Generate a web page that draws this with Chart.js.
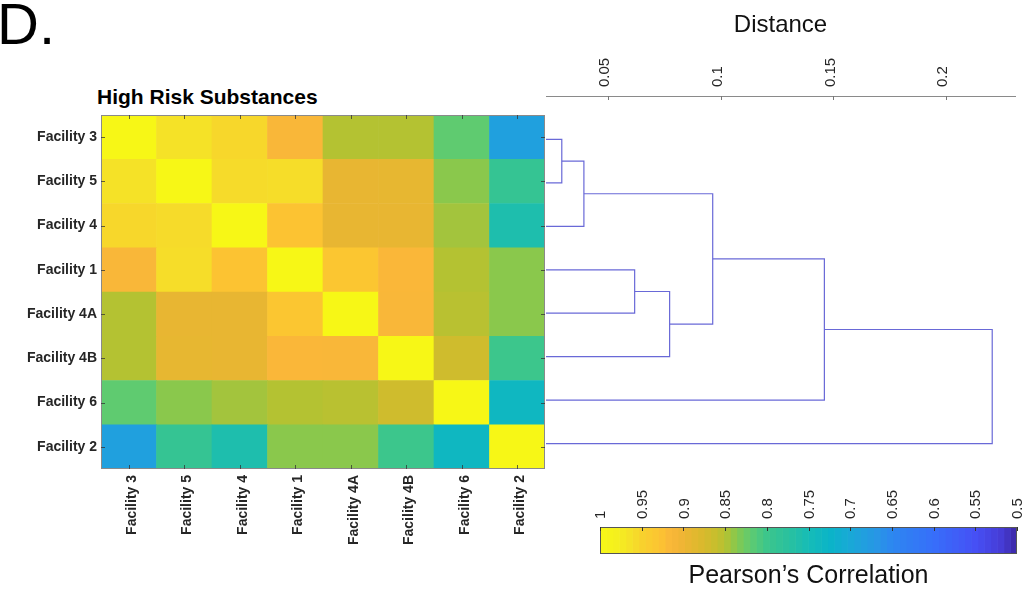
<!DOCTYPE html>
<html>
<head>
<meta charset="utf-8">
<script src="https://cdn.jsdelivr.net/npm/chart.js@4.4.1/dist/chart.umd.min.js"></script>
<style>
  html, body { margin: 0; padding: 0; background: #fff; }
  body { width: 1036px; height: 593px; position: relative; overflow: hidden; font-family: 'Liberation Sans', Arial, sans-serif; }
  .abs { position: absolute; }
  #panel { left: -3px; top: -5px; font-size: 58px; line-height: 58px; color: #000; }
  #hmTitle { left: 97px; top: 86px; font-size: 21px; line-height: 21px; font-weight: bold; color: #000; }
</style>
</head>
<body>
<div id="panel" class="abs">D.</div>
<div id="hmTitle" class="abs">High Risk Substances</div>
<div class="abs" style="left:0;top:80px;width:560px;height:480px"><canvas id="heatmap"></canvas></div>
<div class="abs" style="left:540px;top:0;width:496px;height:500px"><canvas id="dendro"></canvas></div>
<div class="abs" style="left:560px;top:440px;width:476px;height:153px"><canvas id="colorbar"></canvas></div>
<script>
// facilities, in clustered order (rows top to bottom, columns left to right)
const facilities = ['Facility 3', 'Facility 5', 'Facility 4', 'Facility 1', 'Facility 4A', 'Facility 4B', 'Facility 6', 'Facility 2'];

// Pearson correlation matrix
const corrF3  = [1.000, 0.965, 0.955, 0.915, 0.850, 0.850, 0.820, 0.685];
const corrF5  = [0.965, 1.000, 0.958, 0.960, 0.893, 0.892, 0.838, 0.790];
const corrF4  = [0.955, 0.958, 1.000, 0.928, 0.893, 0.893, 0.845, 0.760];
const corrF1  = [0.915, 0.960, 0.928, 1.000, 0.932, 0.916, 0.850, 0.838];
const corrF4A = [0.850, 0.893, 0.893, 0.932, 1.000, 0.915, 0.853, 0.838];
const corrF4B = [0.850, 0.892, 0.893, 0.916, 0.915, 1.000, 0.868, 0.800];
const corrF6  = [0.820, 0.838, 0.845, 0.850, 0.853, 0.868, 1.000, 0.735];
const corrF2  = [0.685, 0.790, 0.760, 0.838, 0.838, 0.800, 0.735, 1.000];
const corrRows = [corrF3, corrF5, corrF4, corrF1, corrF4A, corrF4B, corrF6, corrF2];

// linkage: node ids 1..8 are leaves (in the order above), 9.. are merges
const linkLeft   = [1, 9, 4, 11, 10, 13, 14];
const linkRight  = [2, 3, 5, 6, 12, 7, 8];
const linkHeight = [0.0296, 0.0394, 0.0619, 0.0774, 0.0965, 0.146, 0.2204];
const distTicks = [0.05, 0.1, 0.15, 0.2];
const distMin = 0.0226, distMax = 0.2305;

// colorbar
const corrTicks = [1, 0.95, 0.9, 0.85, 0.8, 0.75, 0.7, 0.65, 0.6, 0.55, 0.5];
const cmapLevels = 64;

// colormap anchors (value -> colour) sampled from the colorbar
const cmapStops  = [1.0, 0.98, 0.964, 0.95, 0.928, 0.916, 0.9, 0.88, 0.862, 0.85, 0.837, 0.82, 0.8, 0.772, 0.75, 0.724, 0.7, 0.668, 0.65, 0.6, 0.55, 0.52, 0.5];
const cmapColors = [
  [247,247,22], [245,240,30], [245,225,40], [248,210,45], [252,195,50], [250,183,57],
  [238,181,52], [220,185,45], [200,190,45], [180,194,50], [135,200,78], [95,203,112],
  [60,198,140], [40,192,160], [22,188,183], [10,180,200], [25,168,215], [40,150,230],
  [45,135,240], [55,110,250], [70,80,245], [70,60,215], [60,40,165]
];

function colorFor(v) {
  if (v >= cmapStops[0]) return `rgb(${cmapColors[0].join(',')})`;
  for (let i = 0; i < cmapStops.length - 1; i++) {
    const hi = cmapStops[i], lo = cmapStops[i + 1];
    if (v <= hi && v >= lo) {
      const f = (hi - v) / (hi - lo);
      const c = cmapColors[i].map((a, k) => Math.round(a + (cmapColors[i + 1][k] - a) * f));
      return `rgb(${c.join(',')})`;
    }
  }
  return `rgb(${cmapColors[cmapColors.length - 1].join(',')})`;
}

Chart.defaults.font.family = "'Liberation Sans', Arial, sans-serif";
Chart.defaults.color = '#262626';
Chart.defaults.animation = false;

// frame around the plot box and MATLAB-style inward tick marks
const frameAndTicks = {
  id: 'frameAndTicks',
  afterDraw(chart, args, o) {
    const { ctx, chartArea: a } = chart;
    ctx.save();
    ctx.lineWidth = 1;
    if (o.frame) {
      ctx.strokeStyle = o.frame;
      ctx.strokeRect(Math.round(a.left) + 0.5, Math.round(a.top) + 0.5,
        Math.round(a.right - a.left) - 1, Math.round(a.bottom - a.top) - 1);
    }
    ctx.strokeStyle = o.tickColor || '#333';
    ctx.beginPath();
    (o.marks || []).forEach(([id, edge]) => {
      const s = chart.scales[id];
      s.ticks.forEach(t => {
        const p = Math.round(s.getPixelForValue(t.value)) + 0.5;
        if (edge === 'top') { ctx.moveTo(p, a.top); ctx.lineTo(p, a.top + o.len); }
        if (edge === 'bottom') { ctx.moveTo(p, a.bottom); ctx.lineTo(p, a.bottom - o.len); }
        if (edge === 'left') { ctx.moveTo(a.left, p); ctx.lineTo(a.left + o.len, p); }
        if (edge === 'right') { ctx.moveTo(a.right, p); ctx.lineTo(a.right - o.len, p); }
      });
    });
    ctx.stroke();
    ctx.restore();
  }
};

// ---- heatmap ----
const n = facilities.length;
const heatSets = corrRows.map((row, i) => ({
  label: facilities[i],
  data: row.map(() => 1),
  backgroundColor: row.map(v => colorFor(v)),
  borderWidth: 0,
  barPercentage: 1,
  categoryPercentage: 1
})).reverse();

new Chart(document.getElementById('heatmap'), {
  type: 'bar',
  data: { labels: facilities, datasets: heatSets },
  options: {
    responsive: true,
    maintainAspectRatio: false,
    layout: { padding: { top: 35, right: 15, left: 0, bottom: 0 } },
    plugins: {
      legend: { display: false },
      tooltip: { enabled: false },
      frameAndTicks: {
        frame: '#8a8a8a', tickColor: 'rgba(50,50,50,0.75)', len: 4,
        marks: [['x', 'top'], ['x', 'bottom'], ['y', 'left'], ['y', 'right']]
      }
    },
    scales: {
      x: {
        stacked: true,
        z: 1,
        grid: { offset: false, color: 'rgba(0,0,0,0.09)', drawTicks: false },
        border: { display: false },
        ticks: { autoSkip: false, minRotation: 90, maxRotation: 90, padding: 6, labelOffset: 3,
                 font: { size: 14, weight: 'bold' }, color: '#262626' },
        afterFit: s => { s.height = 91; }
      },
      y: {
        stacked: true,
        min: 0,
        max: n,
        z: 1,
        grid: { color: 'rgba(0,0,0,0.09)', drawTicks: false },
        border: { display: false },
        afterBuildTicks: s => { s.ticks = facilities.map((_, i) => ({ value: n - i - 0.5 })); },
        ticks: { padding: 4, font: { size: 14, weight: 'bold' }, color: '#262626',
                 callback: v => facilities[Math.round(n - 0.5 - v)] },
        afterFit: s => { s.width = 101; }
      }
    }
  },
  plugins: [frameAndTicks]
});

// ---- dendrogram ----
const nodeY = {}, nodeH = {};
facilities.forEach((_, i) => { nodeY[i + 1] = i + 1; nodeH[i + 1] = 0; });
const linkSets = linkHeight.map((h, k) => {
  const a = linkLeft[k], b = linkRight[k];
  const id = n + k + 1;
  nodeY[id] = (nodeY[a] + nodeY[b]) / 2;
  nodeH[id] = h;
  return {
    data: [
      { x: nodeH[a], y: nodeY[a] }, { x: h, y: nodeY[a] },
      { x: h, y: nodeY[b] }, { x: nodeH[b], y: nodeY[b] }
    ],
    showLine: true,
    borderColor: 'rgb(105,105,215)',
    borderWidth: 1.2,
    pointRadius: 0,
    tension: 0
  };
});

new Chart(document.getElementById('dendro'), {
  type: 'scatter',
  data: { datasets: linkSets },
  options: {
    responsive: true,
    maintainAspectRatio: false,
    layout: { padding: { top: 0, left: 6, right: 21, bottom: 13 } },
    plugins: {
      legend: { display: false },
      tooltip: { enabled: false },
      frameAndTicks: { tickColor: '#777', len: 4, marks: [['x', 'top']] }
    },
    scales: {
      x: {
        type: 'linear',
        position: 'top',
        min: distMin,
        max: distMax,
        afterBuildTicks: s => { s.ticks = distTicks.map(v => ({ value: v })); },
        grid: { display: false, drawTicks: false },
        border: { display: true, color: '#8a8a8a' },
        ticks: { minRotation: 90, maxRotation: 90, padding: 9, labelOffset: 15, font: { size: 15 }, color: '#262626',
                 callback: v => String(v) },
        title: { display: true, text: 'Distance', font: { size: 24 }, color: '#111', padding: { top: 11, bottom: 0 } },
        afterFit: s => { s.height = 96; }
      },
      y: {
        type: 'linear',
        reverse: true,
        min: 0,
        max: n + 1,
        display: false
      }
    }
  },
  plugins: [frameAndTicks]
});

// ---- colorbar ----
const step = (corrTicks[0] - corrTicks[corrTicks.length - 1]) / cmapLevels;
const bandSets = [];
for (let k = 0; k < cmapLevels; k++) {
  const hi = corrTicks[0] - k * step;
  bandSets.push({
    data: [[hi, hi - step]],
    backgroundColor: colorFor(hi - step / 2),
    borderWidth: 0,
    grouped: false,
    barPercentage: 1,
    categoryPercentage: 1
  });
}

new Chart(document.getElementById('colorbar'), {
  type: 'bar',
  data: { labels: ['r'], datasets: bandSets },
  options: {
    indexAxis: 'y',
    responsive: true,
    maintainAspectRatio: false,
    layout: { padding: { top: 0, left: 40, right: 19, bottom: 0 } },
    plugins: {
      legend: { display: false },
      tooltip: { enabled: false },
      frameAndTicks: { frame: '#555', tickColor: '#333', len: 4, marks: [['x', 'top']] }
    },
    scales: {
      x: {
        type: 'linear',
        position: 'top',
        reverse: true,
        min: 0.5,
        max: 1,
        afterBuildTicks: s => { s.ticks = corrTicks.map(v => ({ value: v })); },
        grid: { display: false, drawTicks: false },
        border: { display: false },
        ticks: { minRotation: 90, maxRotation: 90, padding: 8, labelOffset: 19, font: { size: 15 }, color: '#262626',
                 callback: v => String(v) },
        afterFit: s => { s.height = 87; }
      },
      x2: {
        type: 'linear',
        position: 'bottom',
        min: 0.5,
        max: 1,
        grid: { display: false, drawTicks: false },
        border: { display: false },
        ticks: { display: false },
        title: { display: true, text: 'Pearson’s Correlation', font: { size: 25 }, color: '#111', padding: { top: 0, bottom: 2 } },
        afterFit: s => { s.height = 39; }
      },
      y: { display: false }
    }
  },
  plugins: [frameAndTicks]
});
</script>
</body>
</html>
